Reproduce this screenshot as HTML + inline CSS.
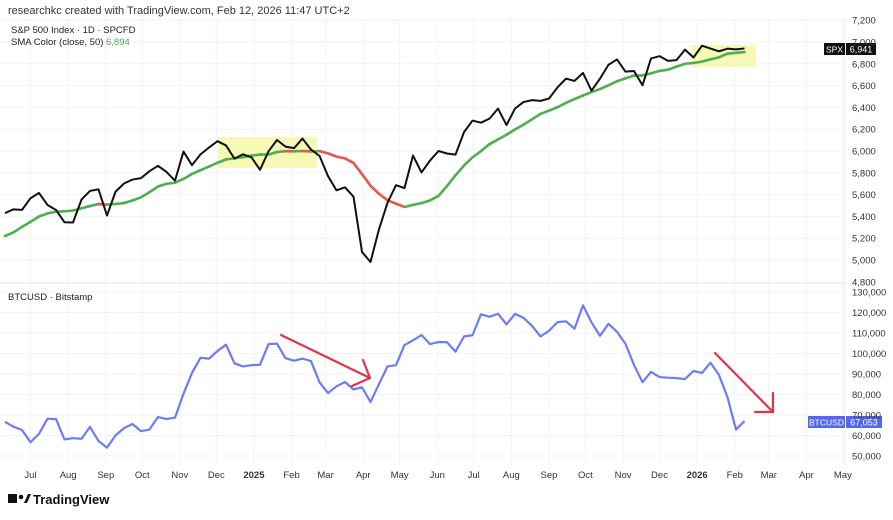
<!DOCTYPE html>
<html><head><meta charset="utf-8"><style>
body{margin:0;background:#fff;font-family:"Liberation Sans",sans-serif;}
svg text{font-family:"Liberation Sans",sans-serif;}
</style></head><body>
<svg id="c" width="893" height="515" viewBox="0 0 893 515">
<rect width="893" height="515" fill="#fff"/>
<text x="8" y="14" font-size="11" fill="#333">researchkc created with TradingView.com, Feb 12, 2026 11:47 UTC+2</text>
<g id="grid"></g>
<rect x="218" y="137" width="99" height="31" fill="#f4f7a8" opacity="0.85"/>
<rect x="691" y="45" width="65" height="22" fill="#f4f7a8" opacity="0.85"/>
<g id="marks"></g>
<line x1="0" y1="283" x2="845" y2="283" stroke="#e6e6e6"/>
<line x1="845" y1="18" x2="845" y2="465" stroke="#eee"/>
<text x="11" y="33" font-size="9.5" fill="#222">S&amp;P 500 Index · 1D · SPCFD</text>
<text x="11" y="45" font-size="9.5" fill="#222">SMA Color (close, 50) <tspan fill="#4caf50">6,894</tspan></text>
<text x="8" y="300" font-size="9.5" fill="#222">BTCUSD · Bitstamp</text>
<g stroke="#e0344a" stroke-width="2.2" fill="none" stroke-linecap="round">
<line x1="281" y1="335" x2="370" y2="378"/><line x1="363" y1="360" x2="370" y2="378"/><line x1="352" y1="386" x2="370" y2="378"/></g>
<g stroke="#e0344a" stroke-width="2.2" fill="none" stroke-linecap="round">
<line x1="715" y1="353" x2="773" y2="412"/><line x1="773" y1="393" x2="773" y2="412"/><line x1="755" y1="412" x2="773" y2="412"/></g>
<g><rect x="824" y="43" width="21" height="12" fill="#111"/><text x="834.5" y="52.5" font-size="8.5" fill="#fff" text-anchor="middle">SPX</text>
<rect x="846" y="43" width="30" height="12" fill="#111"/><text x="861" y="52.5" font-size="9" fill="#fff" text-anchor="middle">6,941</text></g>
<g><rect x="808" y="416" width="37" height="12" fill="#5566ee"/><text x="826.5" y="425.5" font-size="8.5" fill="#fff" text-anchor="middle">BTCUSD</text>
<rect x="846" y="416" width="36" height="12" fill="#5566ee"/><text x="864" y="425.5" font-size="9" fill="#fff" text-anchor="middle">67,053</text></g>
<g><rect x="8" y="494" width="9" height="9" fill="#111"/><circle cx="21" cy="497" r="2.3" fill="#111"/><path d="M24 503 L28 494 L31 494 L27 503Z" fill="#111"/>
<text x="33" y="504" font-size="13" font-weight="bold" fill="#111">TradingView</text></g>
</svg>
<script>
const spxPre=[5204,5123,4967,5100,5127,5222,5303,5304,5278,5346];
const spx=[5430,5465,5460,5567,5615,5505,5459,5346,5344,5554,5634,5648,5408,5626,5702,5738,5751,5815,5864,5808,5728,5995,5870,5969,6032,6090,6051,5930,5970,5942,
5827,5997,6101,6040,6026,6114,6013,5955,5770,5639,5667,5581,5074,4982,5282,5525,5686,5660,5958,5803,5912,6000,5977,5967,6173,6279,6260,6297,6389,6238,6389,6449,6467,6460,6481,6584,6664,6643,6716,6553,6664,6791,6840,6728,6734,6603,6849,6870,6827,6834,6930,6858,
6966,6940,6915,6939,6932,6941];
const btc=[66.7,64.3,62.7,56.7,60.8,68.2,68.0,58.1,58.7,58.4,64.2,57.3,54.1,60.0,63.6,65.6,62.1,62.9,69.0,68.0,68.7,80.4,90.5,97.9,97.5,101.2,104.3,95.2,93.7,94.3,
94.5,104.6,104.8,97.7,96.5,97.5,96.3,86.0,80.7,84.0,86.1,82.5,83.5,76.3,85.1,93.7,94.3,104.1,106.4,109.0,104.6,105.6,105.5,100.9,108.3,108.9,119.1,117.9,119.4,114.2,119.3,117.4,113.5,108.3,111.1,115.3,115.7,112.1,123.5,115.2,108.6,114.5,110.6,104.7,94.4,86.0,91.0,88.5,88.2,88.0,87.5,
91.5,90.5,95.5,89.5,78.6,62.9,67.05];
const spxTicks=[7200,7000,6800,6600,6400,6200,6000,5800,5600,5400,5200,5000,4800];
const btcTicks=[130000,120000,110000,100000,90000,80000,70000,60000,50000];
const monthLabels=["Jul","Aug","Sep","Oct","Nov","Dec","2025","Feb","Mar","Apr","May","Jun","Jul","Aug","Sep","Oct","Nov","Dec","2026","Feb","Mar","Apr","May"];
const monthDays=[21,52,83,113,144,174,205,236,264,295,325,356,386,417,448,478,509,539,570,601,629,660,690];
const NS="http://www.w3.org/2000/svg";
const x0=5,wk=8.5;
const xw=i=>x0+i*wk;
const xd=d=>x0+d/7*wk;
const ySpx=v=>260-(v-5000)/200*21.8;
const yBtc=v=>292+(130000-v)/10000*20.5;
const grid=document.getElementById('grid'),marks=document.getElementById('marks'),svg=document.getElementById('c');
function el(t,a,p){const e=document.createElementNS(NS,t);for(const k in a)e.setAttribute(k,a[k]);p.appendChild(e);return e;}
spxTicks.forEach(v=>{const y=ySpx(v);
 if(y<270&&y>15){const l=el('line',{x1:0,y1:y,x2:845,y2:y,stroke:'#f3f3f3'},grid);
 
 }
 const t=el('text',{x:852,y:y+3.5,'font-size':9.5,fill:'#333'},svg);t.textContent=v.toLocaleString('en-US');
 
 });
btcTicks.forEach(v=>{const y=yBtc(v);
 const l=el('line',{x1:0,y1:y,x2:845,y2:y,stroke:'#f3f3f3'},grid);
 
 
 const t=el('text',{x:852,y:y+3.5,'font-size':9.5,fill:'#333'},svg);t.textContent=v.toLocaleString('en-US');
 
 });
monthLabels.forEach((m,i)=>{const x=xd(monthDays[i]);
 const l=el('line',{x1:x,y1:18,x2:x,y2:465,stroke:'#f3f3f3'},grid);
 
 
 const t=el('text',{x:x,y:478,'font-size':9.5,fill:'#333','text-anchor':'middle','font-weight':(m.length===4?'bold':'normal')},svg);t.textContent=m;
 
 });
// SMA (10-week ≈ 50-day)
const all=spxPre.concat(spx),sma=[];
for(let i=0;i<spx.length;i++){let s=0;for(let k=0;k<10;k++)s+=all[i+spxPre.length-k];sma.push(s/10);}
for(let i=1;i<sma.length;i++){
 const seg=el('line',{x1:xw(i-1),y1:ySpx(sma[i-1]),x2:xw(i),y2:ySpx(sma[i]),stroke:sma[i]>=sma[i-1]?'#4caf50':'#ef5350','stroke-width':2.6,'stroke-linecap':'round'},marks);
 
 }
const sp=el('polyline',{points:spx.map((v,i)=>xw(i)+','+ySpx(v)).join(' '),fill:'none',stroke:'#111','stroke-width':2,'stroke-linejoin':'round'},marks);


const bt=el('polyline',{points:btc.map((v,i)=>xw(i)+','+yBtc(v*1000)).join(' '),fill:'none',stroke:'#6b7cf5','stroke-width':2.2,'stroke-linejoin':'round'},marks);


</script>
</body></html>
